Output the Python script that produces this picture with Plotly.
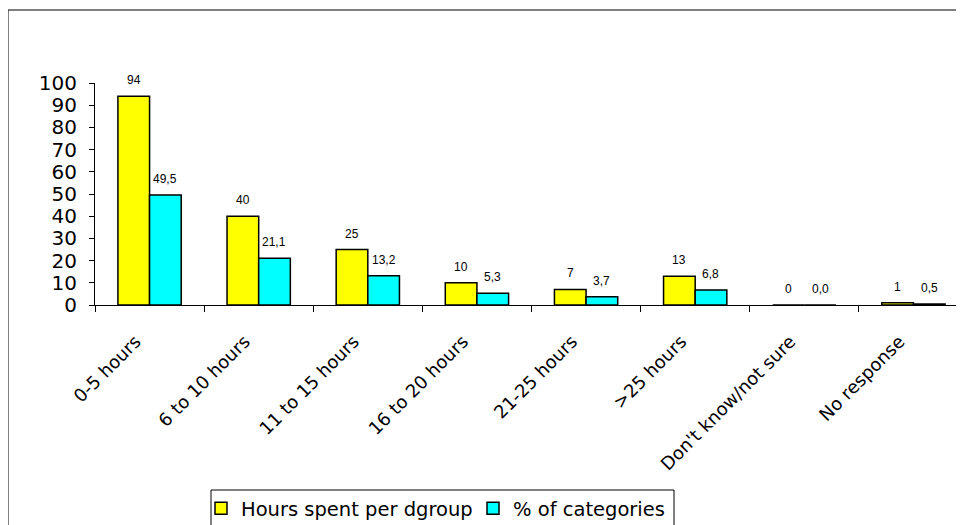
import plotly.graph_objects as go

categories = ["0-5 hours", "6 to 10 hours", "11 to 15 hours", "16 to 20 hours",
              "21-25 hours", ">25 hours", "Don't know/not sure", "No response"]
hours = [94, 40, 25, 10, 7, 13, 0, 1]
pct = [49.5, 21.1, 13.2, 5.3, 3.7, 6.8, 0.0, 0.5]
hours_labels = ["94", "40", "25", "10", "7", "13", "0", "1"]
pct_labels = ["49,5", "21,1", "13,2", "5,3", "3,7", "6,8", "0,0", "0,5"]
yticks = [0, 10, 20, 30, 40, 50, 60, 70, 80, 90, 100]

# page body has an 8px margin; figure coordinates are offset by it
OFF = 8
W, H = 964 - OFF, 525 - OFF
L, T = 95 - OFF, 83 - OFF
R = 0
B = H - (305 - OFF)
pw, ph = W - L - R, H - T - B


def px(xw):
    return (xw - OFF - L) / pw


def py(yw):
    return ((305 - OFF) - (yw - OFF)) / ph


fig = go.Figure()
fig.add_trace(go.Bar(x=categories, y=hours, name="Hours spent per dgroup",
                     marker=dict(color="#FFFF00", line=dict(color="black", width=1.5))))
fig.add_trace(go.Bar(x=categories, y=pct, name="% of categories",
                     marker=dict(color="#00FFFF", line=dict(color="black", width=1.5))))

bw = 31.5
for i, c in enumerate(categories):
    fig.add_annotation(x=c, y=hours[i], text=hours_labels[i], showarrow=False,
                       xshift=-bw / 2, yshift=16, yanchor="middle",
                       font=dict(family="Liberation Sans, Arial", size=12, color="black"))
    fig.add_annotation(x=c, y=pct[i], text=pct_labels[i], showarrow=False,
                       xshift=bw / 2, yshift=16, yanchor="middle",
                       font=dict(family="Liberation Sans, Arial", size=12, color="black"))

# outer chart border
fig.add_shape(type="rect", xref="paper", yref="paper",
              x0=px(8), x1=1.05, y0=-2, y1=py(10),
              line=dict(color="black", width=1), fillcolor="rgba(0,0,0,0)", layer="below")
# legend box
fig.add_shape(type="rect", xref="paper", yref="paper",
              x0=px(211), x1=px(674), y0=py(540), y1=py(490),
              line=dict(color="black", width=1), fillcolor="rgba(0,0,0,0)", layer="below")

fig.update_layout(
    width=W, height=H,
    margin=dict(l=L, r=R, t=T, b=B, pad=0, autoexpand=False),
    paper_bgcolor="white", plot_bgcolor="white",
    barmode="group", bargap=0.42, bargroupgap=0,
    font=dict(family="DejaVu Sans, Verdana", color="black"),
    showlegend=True,
    legend=dict(orientation="h", x=px(201), xanchor="left",
                y=py(489), yanchor="top",
                bgcolor="rgba(0,0,0,0)", borderwidth=0,
                font=dict(family="DejaVu Sans, Verdana", size=19.5, color="black"),
                itemwidth=30, tracegroupgap=0, entrywidth=227, entrywidthmode="pixels"),
    xaxis=dict(type="category", range=[-0.5, 7.5 - 4 / 108.9],
               showline=True, linecolor="black", linewidth=1,
               ticks="outside", tickson="boundaries", ticklen=6, tickcolor="black",
               tickangle=-45, tickfont=dict(family="DejaVu Sans, Verdana", size=18),
               ticklabelstandoff=18, ticklabelshift=-14,
               showgrid=False, zeroline=False),
    yaxis=dict(range=[0, 100], tickvals=yticks,
               showline=True, linecolor="black", linewidth=1,
               ticks="outside", ticklen=5, tickcolor="black",
               tickfont=dict(family="DejaVu Sans, Verdana", size=20),
               ticklabelstandoff=8,
               showgrid=False, zeroline=False),
)

fig.write_html("out.html")
